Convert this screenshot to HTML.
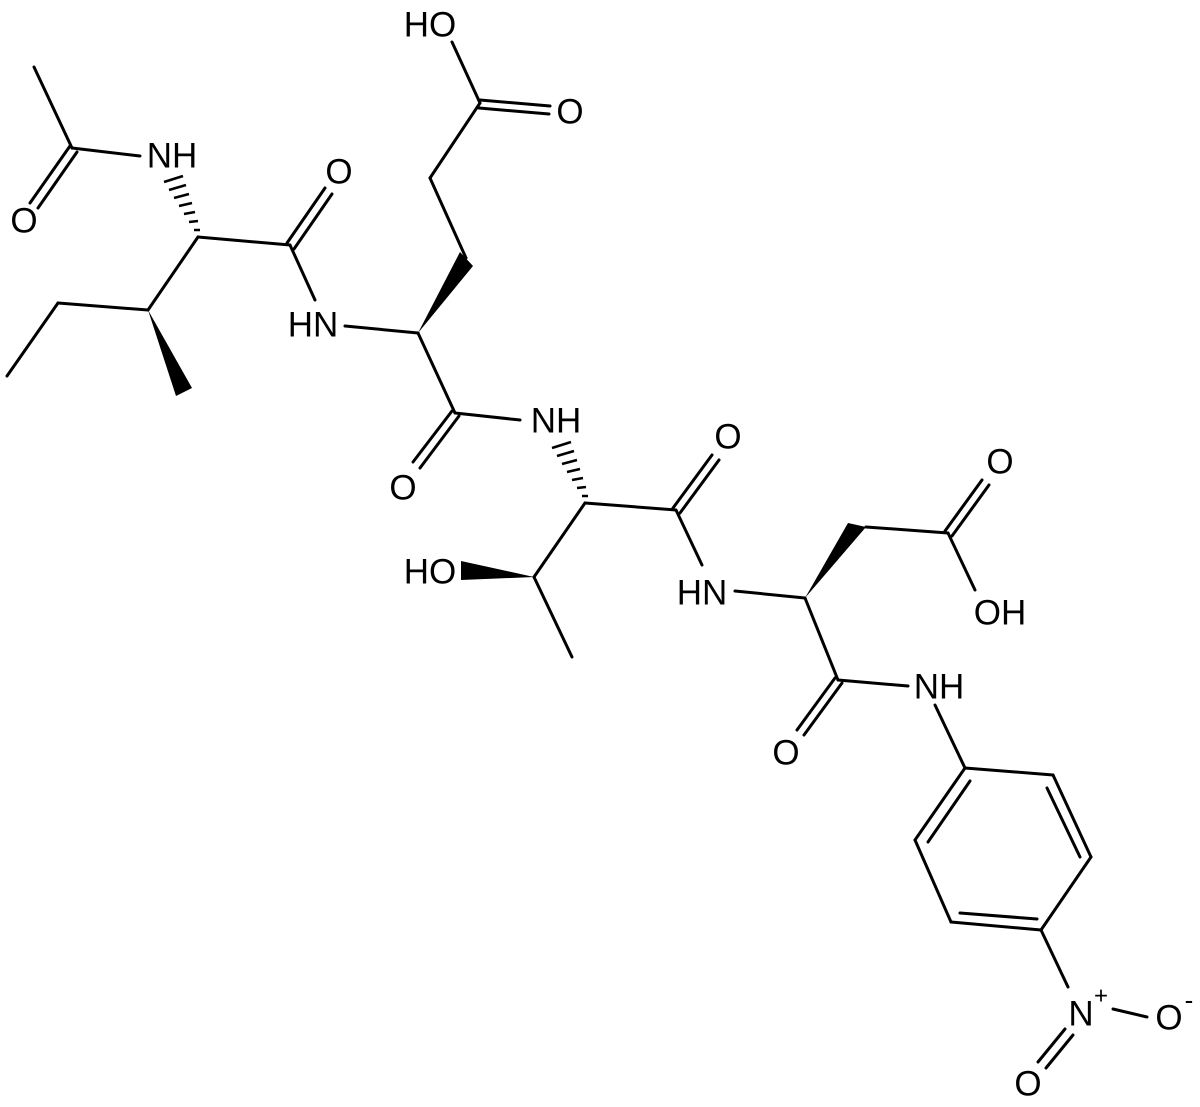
<!DOCTYPE html>
<html><head><meta charset="utf-8"><style>html,body{margin:0;padding:0;background:#fff}svg{display:block}</style></head>
<body>
<svg width="1200" height="1107" viewBox="0 0 1200 1107" xmlns="http://www.w3.org/2000/svg">
<g stroke="#000" stroke-width="3" fill="none" stroke-linecap="round">
<line x1="34" y1="67" x2="72" y2="148"/>
<line x1="72" y1="148" x2="140" y2="156"/>
<line x1="70" y1="146" x2="30" y2="203"/>
<line x1="77" y1="152" x2="38" y2="208"/>
<line x1="198" y1="237" x2="290" y2="245"/>
<line x1="198" y1="237" x2="148" y2="310"/>
<line x1="148" y1="310" x2="58" y2="303"/>
<line x1="58" y1="303" x2="7" y2="376"/>
<line x1="287" y1="243" x2="325" y2="188"/>
<line x1="294" y1="249" x2="332" y2="194"/>
<line x1="290" y1="245" x2="315" y2="300"/>
<line x1="345" y1="326" x2="418" y2="333"/>
<line x1="466" y1="258" x2="430" y2="178"/>
<line x1="430" y1="178" x2="480" y2="103"/>
<line x1="480" y1="103" x2="452" y2="42"/>
<line x1="480" y1="100" x2="550" y2="106"/>
<line x1="479" y1="108" x2="549" y2="114"/>
<line x1="418" y1="333" x2="455" y2="413"/>
<line x1="452" y1="411" x2="413" y2="462"/>
<line x1="459" y1="416" x2="420" y2="468"/>
<line x1="455" y1="413" x2="520" y2="420"/>
<line x1="585" y1="503" x2="676" y2="510"/>
<line x1="585" y1="503" x2="534" y2="577"/>
<line x1="534" y1="577" x2="572" y2="657"/>
<line x1="673" y1="508" x2="712" y2="455"/>
<line x1="680" y1="513" x2="719" y2="460"/>
<line x1="676" y1="510" x2="702" y2="565"/>
<line x1="735" y1="591" x2="805" y2="598"/>
<line x1="866" y1="527" x2="948" y2="533"/>
<line x1="945" y1="531" x2="982" y2="480"/>
<line x1="952" y1="536" x2="989" y2="485"/>
<line x1="948" y1="533" x2="975" y2="590"/>
<line x1="805" y1="598" x2="838" y2="680"/>
<line x1="835" y1="678" x2="797" y2="730"/>
<line x1="842" y1="683" x2="804" y2="735"/>
<line x1="838" y1="680" x2="908" y2="686"/>
<line x1="935" y1="705" x2="965" y2="768"/>
<line x1="965" y1="768" x2="1053" y2="775"/>
<line x1="1053" y1="775" x2="1091" y2="857"/>
<line x1="1091" y1="857" x2="1041" y2="930"/>
<line x1="1041" y1="930" x2="951" y2="922"/>
<line x1="951" y1="922" x2="915" y2="840"/>
<line x1="915" y1="840" x2="965" y2="768"/>
<line x1="928" y1="842" x2="970" y2="781"/>
<line x1="1047" y1="788" x2="1080" y2="857"/>
<line x1="960" y1="913" x2="1037" y2="919"/>
<line x1="1041" y1="930" x2="1068" y2="987"/>
<line x1="1113" y1="1009" x2="1147" y2="1017"/>
<line x1="1065" y1="1029" x2="1038" y2="1062"/>
<line x1="1073" y1="1035" x2="1046" y2="1068"/>
</g>
<g fill="#000">
<polygon points="148,310 176,396 192,388"/>
<polygon points="418,333 460,252 473,266"/>
<polygon points="534,577 461,561 461,580"/>
<polygon points="805,598 848,523 866,527"/>
</g>
<g stroke="#000" stroke-width="2.5">
<line x1="194" y1="230" x2="200" y2="230"/><line x1="189" y1="222" x2="198" y2="221"/><line x1="184" y1="214" x2="195" y2="212"/><line x1="179" y1="206" x2="192" y2="203"/><line x1="174" y1="198" x2="189" y2="194"/><line x1="169" y1="190" x2="186" y2="185"/><line x1="164" y1="182" x2="183" y2="176"/>
<line x1="582" y1="496" x2="588" y2="496"/><line x1="577" y1="488" x2="586" y2="487"/><line x1="572" y1="480" x2="583" y2="478"/><line x1="567" y1="472" x2="580" y2="469"/><line x1="562" y1="464" x2="577" y2="460"/><line x1="557" y1="456" x2="574" y2="451"/><line x1="552" y1="448" x2="571" y2="442"/>
</g>
<g font-family="'Liberation Sans', sans-serif" font-size="35" text-anchor="middle" dominant-baseline="central" fill="#000">
<text x="24" y="221">O</text>
<text x="172" y="156">NH</text>
<text x="339" y="172">O</text>
<text x="313" y="325">HN</text>
<text x="430" y="25">HO</text>
<text x="570" y="112">O</text>
<text x="403" y="488">O</text>
<text x="556" y="421">NH</text>
<text x="728" y="437">O</text>
<text x="430" y="572">HO</text>
<text x="702" y="593">HN</text>
<text x="1000" y="462">O</text>
<text x="1000" y="613">OH</text>
<text x="786" y="753">O</text>
<text x="939" y="687">NH</text>
<text x="1081" y="1014">N</text>
<text x="1169" y="1018">O</text>
<text x="1028" y="1084">O</text>
<text x="1101" y="996" font-size="24">+</text>
<text x="1189" y="1000" font-size="26">-</text>
</g>
</svg>
</body></html>
